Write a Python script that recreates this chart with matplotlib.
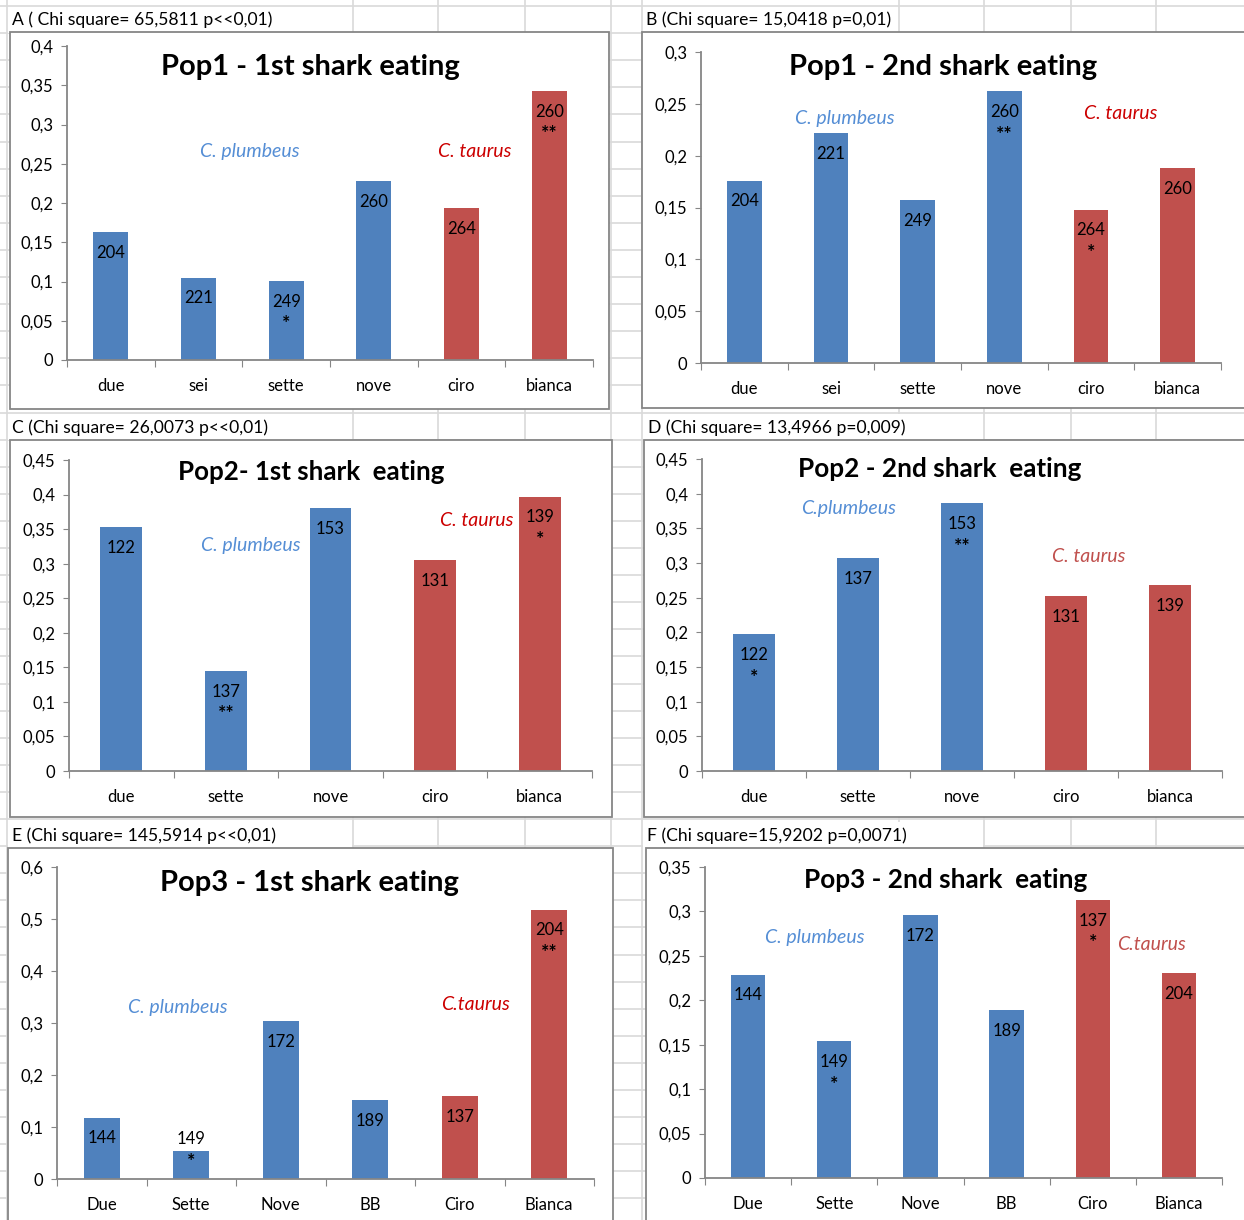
import numpy as np
import matplotlib
matplotlib.use('Agg')
import matplotlib.pyplot as plt
from matplotlib.patches import Rectangle
from matplotlib.lines import Line2D

plt.rcParams['font.family'] = ['Lato', 'DejaVu Sans']

# data (proportions per group)
cats_ab = ['due', 'sei', 'sette', 'nove', 'ciro', 'bianca']
cats_cd = ['due', 'sette', 'nove', 'ciro', 'bianca']
cats_ef = ['Due', 'Sette', 'Nove', 'BB', 'Ciro', 'Bianca']

vals_a = [0.163, 0.105, 0.101, 0.228, 0.194, 0.343]
vals_b = [0.176, 0.222, 0.157, 0.262, 0.148, 0.188]
vals_c = [0.353, 0.145, 0.380, 0.305, 0.397]
vals_d = [0.197, 0.307, 0.386, 0.252, 0.268]
vals_e = [0.118, 0.053, 0.303, 0.151, 0.160, 0.518]
vals_f = [0.229, 0.154, 0.296, 0.189, 0.313, 0.231]

n_ab = [204, 221, 249, 260, 264, 260]
n_cd = [122, 137, 153, 131, 139]
n_ef = [144, 149, 172, 189, 137, 204]

stars_a = ['', '', '*', '', '', '**']
stars_b = ['', '', '', '**', '*', '']
stars_c = ['', '**', '', '', '*']
stars_d = ['*', '', '**', '', '']
stars_e = ['', '*', '', '', '', '**']
stars_f = ['', '*', '', '', '*', '']

species_ab = ['p', 'p', 'p', 'p', 't', 't']
species_cd = ['p', 'p', 'p', 't', 't']
species_ef = ['p', 'p', 'p', 'p', 't', 't']

headers = ['A ( Chi square= 65,5811 p<<0,01)', 'B (Chi square= 15,0418 p=0,01)',
           'C (Chi square= 26,0073 p<<0,01)', 'D (Chi square= 13,4966 p=0,009)',
           'E (Chi square= 145,5914 p<<0,01)', 'F (Chi square=15,9202 p=0,0071)']
titles = ['Pop1 - 1st shark eating', 'Pop1 - 2nd shark eating',
          'Pop2- 1st shark  eating', 'Pop2 - 2nd shark  eating',
          'Pop3 - 1st shark eating', 'Pop3 - 2nd shark  eating']
title_sizes = [21, 21, 18.6, 18.8, 21, 18.8]
plumb_txt = ['C. plumbeus', 'C. plumbeus', 'C. plumbeus', 'C.plumbeus', 'C. plumbeus', 'C. plumbeus']
taurus_txt = ['C. taurus', 'C. taurus', 'C. taurus', 'C. taurus', 'C.taurus', 'C.taurus']

BLUE = '#4F81BD'
RED = '#C0504D'
W, H = 1244, 1220

fig = plt.figure(figsize=(W / 100, H / 100), dpi=100)


def fx(x):
    return x / W


def fy(y):
    return 1 - y / H


# spreadsheet grid behind the charts
for k in range(46):
    y = 6 + 27.1 * k
    fig.add_artist(Line2D([0, 1], [fy(y), fy(y)], color='#d9d9d9', lw=1.2, zorder=0))
for x in [7, 353, 438, 525, 611, 642, 899, 984, 1071, 1156]:
    fig.add_artist(Line2D([fx(x), fx(x)], [0, 1], color='#d9d9d9', lw=1.2, zorder=0))

# header cells (text overflows over these cells in the sheet)
for (x0, x1, y0) in [(8, 352, 7), (643, 898, 7), (8, 352, 414), (643, 983, 414), (8, 352, 822), (643, 983, 822)]:
    fig.add_artist(Rectangle((fx(x0), fy(y0 + 26)), fx(x1 - x0), 26 / H, facecolor='white',
                             edgecolor='none', zorder=0.5))

# chart boxes (px: x0, y0, x1, y1) and plot areas
boxes = [(10, 32, 609, 409), (642, 32, 1250, 408), (10, 440, 612, 817),
         (644, 440, 1250, 817), (8, 848, 613, 1230), (646, 848, 1250, 1230)]
areas = [(67, 46, 593, 360), (701, 52, 1221, 363), (69, 460, 592, 771),
         (702, 459, 1222, 771), (57, 867, 594, 1179), (705, 867, 1222, 1178)]
header_pos = [(12, 20), (646, 20), (12, 428), (648, 428), (12, 836), (647, 836)]

panels = [
    dict(cats=cats_ab, vals=vals_a, n=n_ab, stars=stars_a, sp=species_ab, ymax=0.4, step=0.05,
         title_xy=(0.462, 0.933), plumb=(1.59, 0.265), taur=(4.15, 0.265), tcol='#CC0000'),
    dict(cats=cats_ab, vals=vals_b, n=n_ab, stars=stars_b, sp=species_ab, ymax=0.3, step=0.05,
         title_xy=(0.465, 0.952), plumb=(1.16, 0.236), taur=(4.34, 0.2405), tcol='#CC0000'),
    dict(cats=cats_cd, vals=vals_c, n=n_cd, stars=stars_c, sp=species_cd, ymax=0.45, step=0.05,
         title_xy=(0.463, 0.96), plumb=(1.24, 0.3256), taur=(3.4, 0.363), tcol='#CC0000'),
    dict(cats=cats_cd, vals=vals_d, n=n_cd, stars=stars_d, sp=species_cd, ymax=0.45, step=0.05,
         title_xy=(0.458, 0.968), plumb=(0.91, 0.379), taur=(3.22, 0.31), tcol='#C0504D'),
    dict(cats=cats_ef, vals=vals_e, n=n_ef, stars=stars_e, sp=species_ef, ymax=0.6, step=0.1,
         title_xy=(0.471, 0.949), plumb=(0.85, 0.329), taur=(4.18, 0.335), tcol='#CC0000'),
    dict(cats=cats_ef, vals=vals_f, n=n_ef, stars=stars_f, sp=species_ef, ymax=0.35, step=0.05,
         title_xy=(0.466, 0.958), plumb=(0.77, 0.2707), taur=(4.68, 0.2624), tcol='#C0504D'),
]

for i, p in enumerate(panels):
    bx0, by0, bx1, by1 = boxes[i]
    fig.add_artist(Rectangle((fx(bx0), fy(by1)), fx(bx1 - bx0), (by1 - by0) / H,
                             facecolor='white', edgecolor='#868686', lw=1.3, zorder=1))
    hx, hy = header_pos[i]
    fig.text(fx(hx), fy(hy), headers[i], fontsize=12.6, va='center', ha='left', zorder=2)

    ax0, ay0, ax1, ay1 = areas[i]
    ax = fig.add_axes([fx(ax0), fy(ay1), fx(ax1 - ax0), (ay1 - ay0) / H], zorder=3)
    ax.patch.set_alpha(0)

    n = len(p['cats'])
    x = np.arange(n)
    colors = [BLUE if s == 'p' else RED for s in p['sp']]
    ax.bar(x, p['vals'], width=0.4, color=colors, zorder=2)

    ax.set_xlim(-0.5, n - 0.5)
    ax.set_ylim(0, p['ymax'])
    yt = np.round(np.arange(0, p['ymax'] + 1e-9, p['step']), 2)
    ax.set_yticks(yt)
    ax.set_yticklabels([f'{v:g}'.replace('.', ',') for v in yt], fontsize=12)
    ax.set_xticks(np.arange(n + 1) - 0.5)
    ax.set_xticklabels([''] * (n + 1))
    ax.set_xticks(x, minor=True)
    ax.set_xticklabels(p['cats'], minor=True, fontsize=12)
    ax.tick_params(axis='x', which='major', length=5, color='#868686', direction='out')
    ax.tick_params(axis='x', which='minor', length=0, pad=13)
    ax.tick_params(axis='y', length=4, color='#868686', pad=6)
    for s in ['top', 'right']:
        ax.spines[s].set_visible(False)
    for s in ['left', 'bottom']:
        ax.spines[s].set_color('#868686')
        ax.spines[s].set_linewidth(1.3)

    for xi, v, cnt, st in zip(x, p['vals'], p['n'], p['stars']):
        if v / p['ymax'] < 0.1:
            num_off, star_off = 9, -7
        else:
            num_off, star_off = -15, -31
        ax.annotate(str(cnt), (xi, v), xytext=(0, num_off), textcoords='offset points',
                    ha='center', va='center', fontsize=12, zorder=4)
        if st:
            ax.annotate(st, (xi, v), xytext=(0, star_off), textcoords='offset points',
                        ha='center', va='center', fontsize=14, fontweight='bold', zorder=4)

    ax.text(p['title_xy'][0], p['title_xy'][1], titles[i], transform=ax.transAxes,
            ha='center', va='center', fontsize=title_sizes[i], fontweight='bold')
    ax.text(p['plumb'][0], p['plumb'][1], plumb_txt[i], ha='center', va='center',
            fontsize=14, style='italic', color='#558ED5')
    ax.text(p['taur'][0], p['taur'][1], taurus_txt[i], ha='center', va='center',
            fontsize=14, style='italic', color=p['tcol'])

fig.savefig('out.png', dpi=100)
